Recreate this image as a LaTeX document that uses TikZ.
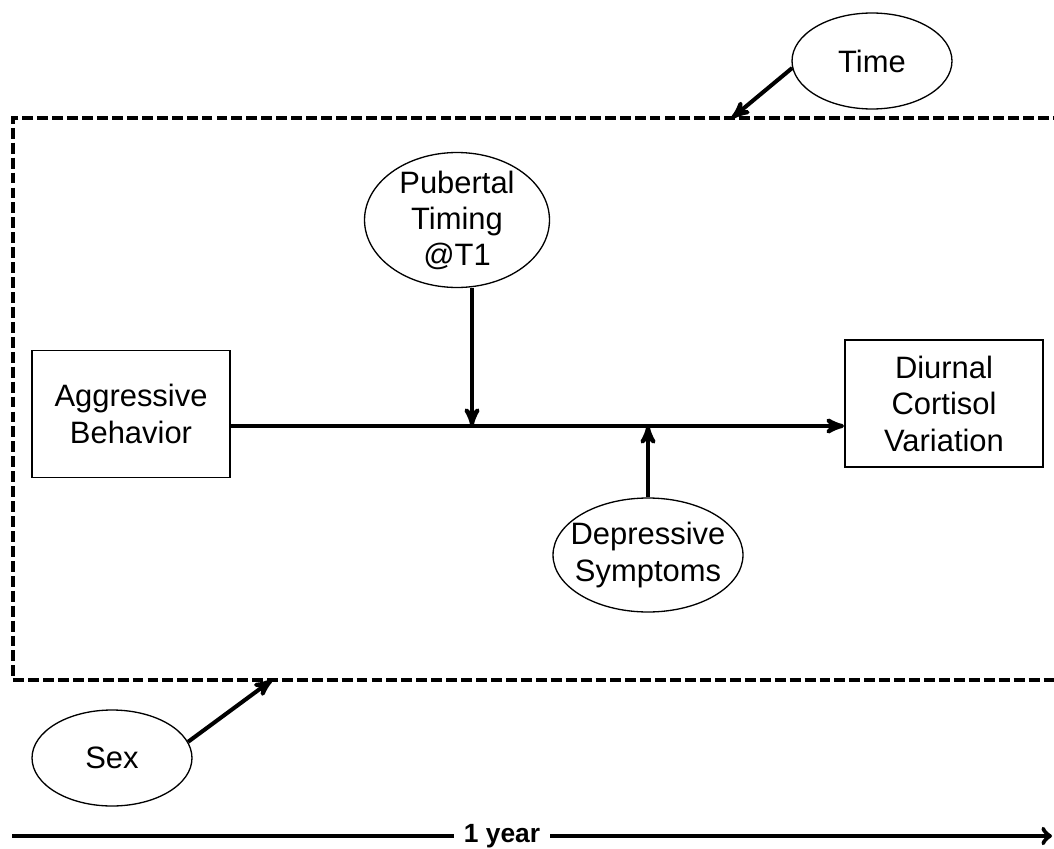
\documentclass[tikz,border=0pt]{standalone}
\usepackage{fontspec}
\setmainfont{Liberation Sans}
\usetikzlibrary{arrows,shapes.geometric,positioning}
\tikzset{
    varbox/.style={
           rectangle,
           draw=black, line width=1.1pt,
           minimum width=3.96cm,
           minimum height=2.54cm,
           inner sep=0pt,
           align=center,
           font=\fontsize{17.6}{20.8}\selectfont,
           },
    varoval/.style={
           ellipse,
           draw=black, line width=0.75pt,
           inner sep=0pt,
           align=center,
           font=\fontsize{17.6}{20.5}\selectfont,
           },
    window/.style={
           rectangle,
           draw=black, line width=2pt,
           dash pattern=on 6.2pt off 2.3pt,
           minimum width=21.02cm,
           minimum height=11.24cm,
           },
    effect/.style={->, line width=2.3pt},
    timeline/.style={line width=2.6pt},
}

\begin{document}
\begin{tikzpicture}[>=stealth', x=0.02cm, y=-0.02cm]
        \useasboundingbox (0,0) rectangle (1054,848);

        % MEASUREMENT WINDOW (dashed frame, right side runs off the page)
        \node[window] (window) at (538.5,399) {};

        % PREDICTOR AND OUTCOME
        \node[varbox] (AGG) at (131,414)
        {Aggressive\\Behavior};
        \node[varbox] (DCV) at (944,403.5)
        {Diurnal\\Cortisol\\Variation};

        % MODERATORS
        \node[varoval,
            minimum width=3.7cm,
            minimum height=2.7cm,
            inner sep=-5pt] (PUB) at (457,220)
        {Pubertal\\Timing\\@T1};
        \node[varoval,
            minimum width=3.8cm,
            minimum height=2.28cm,
            inner xsep=-7pt] (DEP) at (648,555)
        {Depressive\\Symptoms};

        % COVARIATES
        \node[varoval,
            minimum width=3.2cm,
            minimum height=1.92cm] (TIME) at (872,61) {Time};
        \node[varoval,
            minimum width=3.2cm,
            minimum height=1.92cm] (SEX) at (112,758) {Sex};

        % points where the arrows meet
        \coordinate (jPUB) at (472,426);
        \coordinate (jDEP) at (648,426);
        \coordinate (hitTIME) at (732,118);
        \coordinate (hitSEX) at (272,680);

        % draw the paths
        \draw[effect] (AGG.east |- jPUB) -- (DCV.west |- jPUB);
        \draw[effect] (PUB.south -| jPUB) -- (jPUB);
        \draw[effect] (DEP.north) -- (jDEP);
        \draw[effect] (TIME.185) -- (hitTIME);
        \draw[effect] (SEX.12) -- (hitSEX);

        % TIME LINE at the bottom
        \coordinate (tlStart) at (12,836);
        \coordinate (tlEnd) at (1052,836);
        \node[inner xsep=0.2cm, inner ysep=0pt,
            font=\fontsize{15}{18}\selectfont\bfseries] (YEAR) at (502,836) {1 year};
        \draw[timeline] (tlStart) -- (YEAR);
        \draw[timeline, ->, >=to] (YEAR) -- (tlEnd);
\end{tikzpicture}
\end{document}
